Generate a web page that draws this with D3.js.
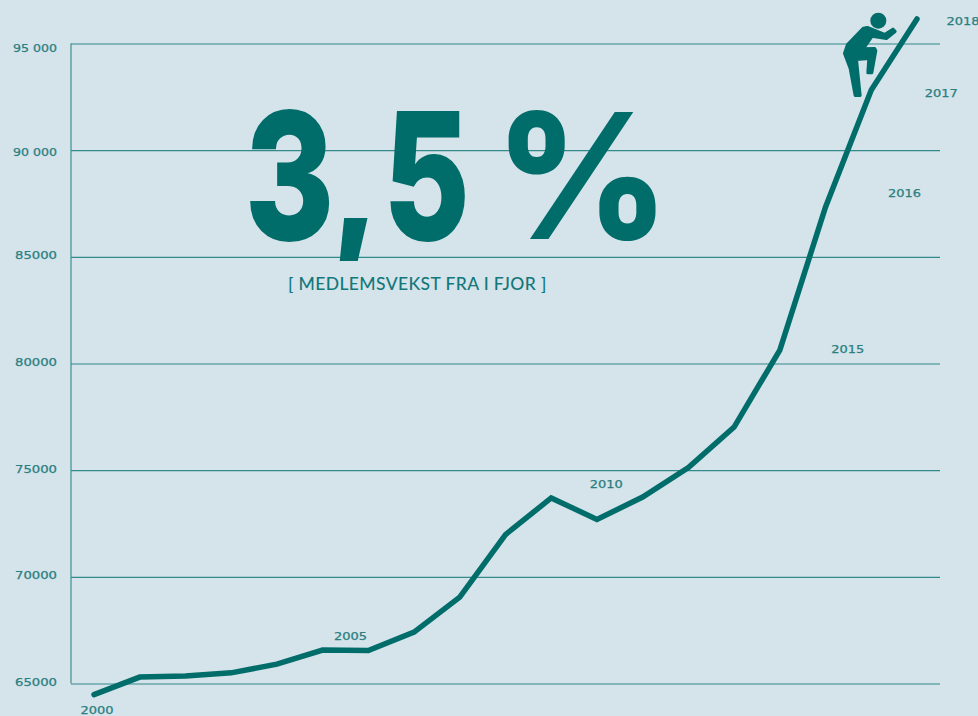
<!DOCTYPE html>
<html>
<head>
<meta charset="utf-8">
<script src="https://cdn.jsdelivr.net/npm/d3@7"></script>
<style>
  html, body { margin: 0; padding: 0; background: #d5e3ea; }
  svg { display: block; }
  .lab { font-family: "DejaVu Sans", sans-serif; font-size: 11px; fill: #2a7f80; stroke: #2a7f80; stroke-width: 0.25px; }
</style>
</head>
<body>
<div id="viz"></div>
<script>
// general variables
var w = 978
var h = 716
var dark = "#006d6a"

var years = [2000, 2001, 2002, 2003, 2004, 2005, 2006, 2007, 2008, 2009, 2010, 2011, 2012, 2013, 2014, 2015, 2016, 2017, 2018]
var members = [64480, 65300, 65350, 65500, 65910, 66570, 66550, 67410, 69050, 71980, 73700, 72690, 73740, 75120, 77020, 80630, 87340, 92820, 96150]

var yTicks = [65000, 70000, 75000, 80000, 85000, 90000, 95000]
var yTickLabels = ["65000", "70000", "75000", "80000", "85000", "90 000", "95 000"]
var yLabelNudge = [1.5, 2, 2, 1.5, 1.5, 5, 7.5] // baseline below the grid line
var labelledYears = [2000, 2005, 2010, 2015, 2016, 2017, 2018]
var labelOffsets = [[3, 19], [28, -10], [55, -10], [68, 3], [79, -10], [70, 7], [46, 6]] // nudges from the point

// big number glyphs, one by one because the spacing and width are tuned
var bigGlyphs = ["3", ",", "5", "%"]
var bigCentres = [289.5, 355, 426.5, 582]
var bigStretch = [0.77, 0.75, 0.75, 0.97]
var bigWeight = [2, 2, 2, 0] // extra stroke, narrowed digits lose some weight

var x = d3.scaleLinear().domain([2000, 2018]).range([94, 917])
var y = d3.scaleLinear().domain([65000, 95000]).range([683.5, 43.5])

var svg = d3.select("#viz").append("svg")
  .attr("width", w)
  .attr("height", h)

svg.append("rect").attr("width", w).attr("height", h).attr("fill", "#d5e3ea")

// grid lines come from the axis ticks, labels are set by hand
var yAxis = d3.axisLeft(y)
  .tickValues(yTicks)
  .tickSize(-869)
  .tickFormat((d, i) => yTickLabels[i])

var axisG = svg.append("g")
  .attr("transform", "translate(71,0)")
  .call(yAxis)

axisG.select(".domain").attr("d", "M0," + y(65000) + "V" + y(95000)).attr("stroke", "#3f8f90").attr("stroke-width", 1.2)
axisG.selectAll(".tick line").attr("stroke", "#338a8b").attr("stroke-width", 1.1)
axisG.selectAll(".tick text")
  .attr("class", "lab")
  .attr("x", -14)
  .attr("y", (d, i) => yLabelNudge[i])
  .attr("dy", null)
  .attr("font-family", null)
  .attr("font-size", null)
  .attr("text-anchor", "end")
  .attr("textLength", (d, i) => yTickLabels[i].length > 5 ? 44 : 42)
  .attr("lengthAdjust", "spacingAndGlyphs")

// big number, the comma tail is cut off in the original
svg.append("clipPath").attr("id", "bigclip")
  .append("rect").attr("x", -120).attr("y", -150).attr("width", 240).attr("height", 172)

svg.selectAll(".big").data(bigGlyphs)
  .enter()
  .append("g")
  .attr("class", "big")
  .attr("transform", (d, i) => "translate(" + bigCentres[i] + ",239) scale(" + bigStretch[i] + ",1)")
  .attr("clip-path", "url(#bigclip)")
  .append("text")
  .attr("text-anchor", "middle")
  .attr("font-family", "Inter")
  .attr("font-weight", 800)
  .attr("font-size", 175)
  .attr("fill", dark)
  .attr("stroke", dark)
  .attr("stroke-width", (d, i) => bigWeight[i])
  .text(d => d)

svg.append("text")
  .attr("x", 288)
  .attr("y", 290)
  .attr("font-family", "Lato")
  .attr("font-weight", 500)
  .attr("font-size", 17.5)
  .attr("letter-spacing", 0.38)
  .attr("fill", "#12787a")
  .text("[ MEDLEMSVEKST FRA I FJOR ]")

// the line
var line = d3.line()
  .x((d, i) => x(years[i]))
  .y(d => y(d))

svg.append("path")
  .datum(members)
  .attr("d", line)
  .attr("fill", "none")
  .attr("stroke", dark)
  .attr("stroke-width", 5.5)
  .attr("stroke-linejoin", "miter")
  .attr("stroke-linecap", "round")

// year labels
svg.selectAll(".yearlab").data(labelledYears)
  .enter()
  .append("text")
  .attr("class", "lab yearlab")
  .attr("text-anchor", "middle")
  .attr("x", (d, i) => x(d) + labelOffsets[i][0])
  .attr("y", (d, i) => y(members[years.indexOf(d)]) + labelOffsets[i][1])
  .attr("textLength", 33)
  .attr("lengthAdjust", "spacingAndGlyphs")
  .text(d => d)

// climbing figure, traced at 3x so the numbers stay whole
var man = svg.append("g")
  .attr("transform", "translate(780,0) scale(0.3333)")
  .attr("fill", dark)
  .attr("stroke", dark)
  .attr("stroke-linejoin", "round")

man.append("circle").attr("cx", 295).attr("cy", 62).attr("r", 24).attr("stroke", "none")
man.append("path")
  .attr("stroke-width", 10)
  .attr("d", "M262,83 L314,104 L339,88 L345,94 L319,115 L276,108 L249,147 L284,146 L287,152 L275,218 L264,218 L267,175 L229,178 L240,286 L226,286 L211,205 L194,160 L203,134 L250,85 Z")
</script>
</body>
</html>
